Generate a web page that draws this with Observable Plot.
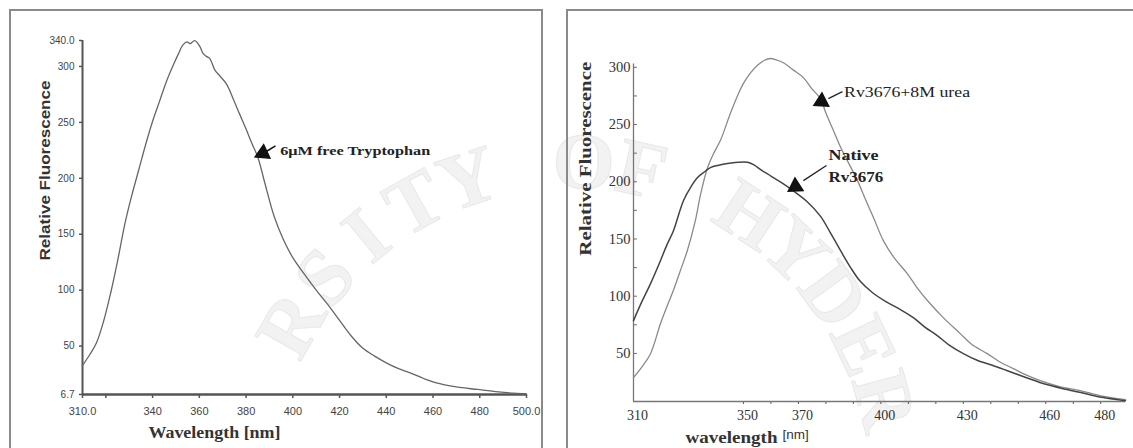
<!DOCTYPE html>
<html>
<head>
<meta charset="utf-8">
<script src="https://cdn.jsdelivr.net/npm/d3@7"></script>
<script src="https://cdn.jsdelivr.net/npm/@observablehq/plot@0.6"></script>
<style>
  html, body { margin: 0; padding: 0; background: #fff; width: 1133px; height: 448px; overflow: hidden; }
  #page { position: relative; width: 1133px; height: 448px; }
  #seal { position: absolute; left: 0; top: 0; }
  .frame { position: absolute; border: 2px solid #8a8a8a; box-sizing: border-box; }
  .panel { position: absolute; top: 0; }
</style>
</head>
<body>
<div id="page">
  <svg id="seal" width="1133" height="448"></svg>
  <div class="frame" style="left:9px;top:9px;width:534px;height:470px"></div>
  <div class="frame" style="left:566px;top:9px;width:590px;height:470px"></div>
  <div id="left" class="panel" style="left:0px"></div>
  <div id="right" class="panel" style="left:560px"></div>
</div>
<script>
// Emission spectrum of 6 µM free tryptophan
const trpWavelength = [310, 313, 316, 319, 322, 325, 328, 331, 334, 337, 340, 343, 346, 349, 351, 352.9, 354.7, 356, 358, 360.2, 361.5, 363, 364.5, 366.6, 369, 371.7, 374.5, 377.2, 380, 382.5, 385, 388, 392, 396, 400, 405, 410, 415, 420, 425, 430, 435, 440, 445, 451, 456, 461, 470, 479, 488, 496, 500];
const trpFluorescence = [32.6, 42, 53, 72, 97, 126, 158, 184, 207, 230, 251, 269, 287, 302, 311, 319, 322, 320.5, 323, 318, 312, 309, 307, 297, 291, 284, 271, 257.6, 244, 231, 219, 196, 166, 145, 129, 114, 100, 87, 73, 59, 48, 41, 35, 30, 25.4, 21, 17.4, 13.5, 11.2, 9, 7.6, 7.2];

// Native Rv3676 and Rv3676 unfolded in 8 M urea
const nativeWavelength = [310, 313, 316.2, 319.8, 322, 324.5, 328.2, 331, 333.3, 336, 338, 341, 344.2, 348, 351.5, 354, 356, 360, 364, 368.2, 373, 378, 381.5, 385.3, 389, 392.5, 397, 402, 407, 411.8, 416, 420.5, 425, 430, 435, 441, 447, 453, 460, 467.8, 475, 481, 489];
const nativeFluorescence = [78.7, 95, 111, 131, 144, 157, 183.6, 196, 203.7, 209, 212.4, 214.5, 216, 217, 217, 214.5, 211, 205, 199, 192, 183, 170, 156, 140, 125, 113, 103, 95, 88.5, 81.3, 73, 65.6, 57, 49.8, 44, 39.3, 34, 28.8, 23, 18.4, 14.5, 11.4, 8.7];
const ureaWavelength = [310, 313, 316.2, 319.8, 322, 324.5, 327, 329.6, 332.5, 334.5, 336.9, 339, 341.6, 345.3, 348, 350, 352.5, 355, 357.5, 359.8, 362, 364.5, 368, 371.8, 375, 378, 380, 382.7, 385, 387.8, 391.5, 394.5, 397.3, 400.9, 405, 409.6, 413, 417, 422.7, 428.9, 433, 438.7, 443, 448.2, 453, 458, 465, 472.5, 480, 489];
const ureaFluorescence = [28.8, 38, 49.8, 76, 90, 105, 122, 140, 166, 190, 212, 224, 236, 260, 276, 286, 295, 301.6, 306, 307.7, 306.5, 304, 298, 291, 281, 272.7, 260, 245, 232, 218.5, 201, 184, 168.7, 148.6, 133, 119.8, 108, 96, 81.3, 67.3, 58, 49.8, 43, 36.7, 31, 26.2, 21, 17.5, 13, 9.6];

// Axis ticks and their printed labels
const leftXTicks = [310, 320, 340, 360, 380, 400, 420, 440, 460, 480, 500];
const leftXTickLabels = ["310.0", "", "340", "360", "380", "400", "420", "440", "460", "480", "500.0"];
const leftYTicks = [6.7, 50, 100, 150, 200, 250, 300, 323.2];
const leftYTickLabels = ["6.7", "50", "100", "150", "200", "250", "300", "340.0"];
const rightXTicks = [350, 360, 370, 380, 390, 400, 410, 420, 430, 440, 450, 460, 470, 480];
const rightXLabels = [310, 350, 370, 400, 430, 460, 480];
const rightYTicks = [50, 75, 100, 125, 150, 175, 200, 225, 250, 275, 300];
const rightYLabels = [50, 100, 150, 200, 250, 300];

// Curve annotations
const trpNote = {text: "6\u03bcM free Tryptophan", x: 394.6, y: 225};
const trpArrow = {x1: 392.6, y1: 228.9, x2: 388.3, y2: 223.5, hx: 387.2, hy: 222.3, angle: -115};
const ureaNote = {text: "Rv3676+8M urea", x: 386.6, y: 278.5};
const ureaArrow = {x1: 386, y1: 278.8, x2: 380.9, y2: 272.7, hx: 378.4, hy: 270.1, angle: -117};
const nativeNote = ["Native", "Rv3676"];
const nativeNoteX = 380.9;
const nativeNoteY = [222.9, 203.7];
const nativeArrow = {x1: 380.2, y1: 214.2, x2: 371.8, y2: 201, hx: 368.9, hy: 195.8, angle: -123};

const rows = (xs, ys) => xs.map((x, i) => ({x, y: ys[i]}));
const serif = "'Liberation Serif', 'Times New Roman', serif";
const sans = "'Liberation Sans', Arial, sans-serif";

// ---------- left panel: free tryptophan ----------
const leftXLabel = new Map(leftXTicks.map((t, i) => [t, leftXTickLabels[i]]));
const leftYLabel = new Map(leftYTicks.map((t, i) => [t, leftYTickLabels[i]]));

const left = Plot.plot({
  width: 545,
  height: 448,
  marginLeft: 82,
  marginRight: 19,
  marginTop: 40,
  marginBottom: 54,
  style: {background: "transparent", fontFamily: sans, color: "#444", overflow: "visible"},
  x: {domain: [310, 500]},
  y: {domain: [6.7, 323.2]},
  marks: [
    Plot.axisX(leftXTicks, {tickSize: 4, tickPadding: 9, fontSize: 11, label: null, stroke: "#555", strokeWidth: 1.5, tickFormat: d => leftXLabel.get(d), fontFamily: sans}),
    Plot.axisY(leftYTicks, {tickSize: 3, tickPadding: 5, fontSize: 10, label: null, stroke: "#555", strokeWidth: 1.5, tickFormat: d => leftYLabel.get(d), fontFamily: sans}),
    Plot.ruleX([310], {stroke: "#555", strokeWidth: 2}),
    Plot.ruleY([6.7], {stroke: "#555", strokeWidth: 2.5}),
    Plot.line(rows(trpWavelength, trpFluorescence), {x: "x", y: "y", stroke: "#666", strokeWidth: 1.3, curve: "catmull-rom"}),
    Plot.link([trpArrow], {x1: "x1", y1: "y1", x2: "x2", y2: "y2", stroke: "#111", strokeWidth: 1.5}),
    Plot.dot([trpArrow], {x: "hx", y: "hy", symbol: "triangle", r: 5.5, fill: "#111", stroke: "#111", rotate: trpArrow.angle}),
    Plot.text([trpNote], {x: "x", y: "y", text: "text", textAnchor: "start", fontSize: 13.5, fontWeight: "bold", fontFamily: serif, fill: "#222"}),
    Plot.text(["Wavelength [nm]"], {frameAnchor: "bottom", dx: -90, dy: 43, fontSize: 16, fontWeight: "bold", fontFamily: serif, fill: "#333"}),
    Plot.text(["Relative Fluorescence"], {frameAnchor: "left", rotate: -90, dx: -37, dy: 43, fontSize: 15, fontWeight: "bold", fontFamily: sans, fill: "#333"})
  ]
});
document.getElementById("left").appendChild(left);

// ---------- right panel: Rv3676 native vs denatured ----------
const right = Plot.plot({
  width: 573,
  height: 448,
  marginLeft: 73,
  marginRight: 8,
  marginTop: 63.4,
  marginBottom: 47,
  style: {background: "transparent", fontFamily: serif, color: "#444", overflow: "visible"},
  x: {domain: [310, 489]},
  y: {domain: [8, 303]},
  marks: [
    Plot.axisX(rightXTicks, {tickSize: 3, label: null, tickFormat: () => "", stroke: "#555"}),
    Plot.axisX(rightXLabels, {tickSize: 0, tickPadding: 9, dx: 4, fontSize: 14, label: null, fontFamily: serif, fill: "#333"}),
    Plot.axisY(rightYLabels, {tickSize: 0, tickPadding: 3, fontSize: 14.5, label: null, fontFamily: serif, fill: "#333"}),
    Plot.ruleY(rightYTicks, {y: d => d, x1: 310, x2: 311.4, stroke: "#666"}),
    Plot.ruleX([310], {stroke: "#777", strokeWidth: 1.3}),
    Plot.ruleY([8], {stroke: "#777", strokeWidth: 1.6}),
    Plot.line(rows(ureaWavelength, ureaFluorescence), {x: "x", y: "y", stroke: "#8a8a8a", strokeWidth: 1.3, curve: "catmull-rom"}),
    Plot.line(rows(nativeWavelength, nativeFluorescence), {x: "x", y: "y", stroke: "#444", strokeWidth: 1.5, curve: "catmull-rom"}),
    Plot.link([ureaArrow, nativeArrow], {x1: "x1", y1: "y1", x2: "x2", y2: "y2", stroke: "#222", strokeWidth: 1.3}),
    Plot.dot([ureaArrow, nativeArrow], {x: "hx", y: "hy", symbol: "triangle", r: 5.5, fill: "#111", stroke: "#111", rotate: "angle"}),
    Plot.text([ureaNote], {x: "x", y: "y", text: "text", textAnchor: "start", fontSize: 15, fontFamily: serif, fill: "#222"}),
    Plot.text(nativeNote, {x: nativeNoteX, y: (d, i) => nativeNoteY[i], text: d => d, textAnchor: "start", fontSize: 14.5, fontWeight: "bold", fontFamily: serif, fill: "#222"}),
    Plot.text(["wavelength"], {frameAnchor: "bottom", dx: -148, dy: 41, fontSize: 16, fontWeight: "bold", fontFamily: serif, fill: "#333"}),
    Plot.text(["[nm]"], {frameAnchor: "bottom", textAnchor: "start", dx: -97, dy: 37, fontSize: 13.5, fontFamily: sans, fill: "#333"}),
    Plot.text(["Relative Fluorescence"], {frameAnchor: "left", rotate: -90, dx: -48, dy: 23, fontSize: 16, fontWeight: "bold", fontFamily: serif, fill: "#333"})
  ]
});
document.getElementById("right").appendChild(right);

// Stretch a few labels to their printed widths
function fitText(svg, lengths) {
  svg.querySelectorAll("text").forEach(t => {
    const w = lengths[t.textContent];
    if (w) { t.setAttribute("textLength", w); t.setAttribute("lengthAdjust", "spacingAndGlyphs"); }
  });
}
fitText(left, {"Relative Fluorescence": 180, "Wavelength [nm]": 132, "6\u03bcM free Tryptophan": 150});
fitText(right, {"Relative Fluorescence": 194, "Rv3676+8M urea": 126, "wavelength": 92, "Native": 50, "Rv3676": 55});

// Faint circular seal printed behind both panels: one letter per glyph,
// set around a circle, keeping only the part of the ring inside the page
const sealText = "UNIVERSITY OF HYDERABAD";
const cx = 572, cy = 485, r = 325, step = 10.4;
const mid = (sealText.length - 1) / 2;
const sealLetters = Array.from(sealText, (ch, i) => ({ch, a: (i - mid + 0.2) * step}))
  .filter((d, i) => i >= 5 && i <= 18 && d.ch !== " ");
d3.select("#seal").selectAll("text")
  .data(sealLetters)
  .join("text")
  .attr("transform", d => {
    const rad = d.a * Math.PI / 180;
    return `translate(${cx + r * Math.sin(rad)},${cy - r * Math.cos(rad)}) rotate(${d.a})`;
  })
  .attr("text-anchor", "middle")
  .attr("dy", "0.35em")
  .attr("font-family", serif)
  .attr("font-weight", "bold")
  .attr("font-size", 80)
  .attr("fill", "#f2f2f2")
  .attr("stroke", "#e8e8e8")
  .attr("stroke-width", 1)
  .text(d => d.ch);
</script>
</body>
</html>
